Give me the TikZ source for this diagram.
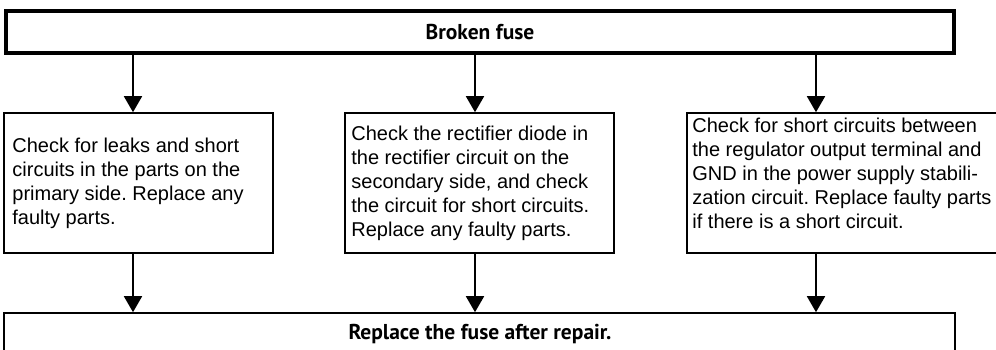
\documentclass[tikz,border=0pt]{standalone}
\usepackage{fontspec}
\setmainfont{Liberation Sans}
\newfontfamily\hdfont{PT Sans}
\usetikzlibrary{arrows.meta}
\frenchspacing
\begin{document}
\begin{tikzpicture}[x=1pt,y=-1pt,
  box/.style={draw=black,line width=1.6pt,fill=white,inner sep=0pt},
  topbox/.style={draw=black,line width=4pt,fill=white,inner sep=0pt},
  txt/.style={anchor=west,align=left,inner sep=0pt,font=\frenchspacing\fontsize{20}{24}\selectfont},
  hd/.style={inner sep=0pt,font=\hdfont\bfseries\fontsize{21.5}{24}\selectfont},
  arr/.style={line width=1.8pt,-{Triangle[width=18pt,length=16pt]}}]
\clip (0,0) rectangle (996,350);
\fill[white] (0,0) rectangle (996,350);
% boxes
\node[topbox,minimum width=948pt,minimum height=42pt] (top) at (480,32) {};
\node[hd] (toptxt) at (480,32) {Broken fuse};
\node[box,minimum width=269pt,minimum height=140pt] (b1) at (138.5,183) {};
\node[box,minimum width=269pt,minimum height=140pt] (b2) at (479.5,183) {};
\node[box,minimum width=318pt,minimum height=140pt] (b3) at (846,183) {};
\node[box,minimum width=951pt,minimum height=67pt] (bot) at (479.5,346.5) {};
\node[hd] (bottxt) at (480,334) {Replace the fuse after repair.};
% texts
\node[txt] (t1) at ([xshift=9pt]b1.west) {Check for leaks and short\\circuits in the parts on the\\primary side. Replace any\\faulty parts.};
\node[txt] (t2) at ([xshift=7pt]b2.west) {Check the rectifier diode in\\the rectifier circuit on the\\secondary side, and check\\the circuit for short circuits.\\Replace any faulty parts.};
\node[txt] (t3) at ([xshift=6pt,yshift=10pt]b3.west) {Check for short circuits between\\the regulator output terminal and\\GND in the power supply stabili-\\zation circuit. Replace faulty parts\\if there is a short circuit.};
% arrow positions
\coordinate (x1) at (133,0);
\coordinate (x2) at (475,0);
\coordinate (x3) at (816,0);
\draw[arr] (top.south -| x1) -- (b1.north -| x1);
\draw[arr] (top.south -| x2) -- (b2.north -| x2);
\draw[arr] (top.south -| x3) -- (b3.north -| x3);
\draw[arr] (b1.south -| x1) -- (bot.north -| x1);
\draw[arr] (b2.south -| x2) -- (bot.north -| x2);
\draw[arr] (b3.south -| x3) -- (bot.north -| x3);
\end{tikzpicture}
\end{document}
